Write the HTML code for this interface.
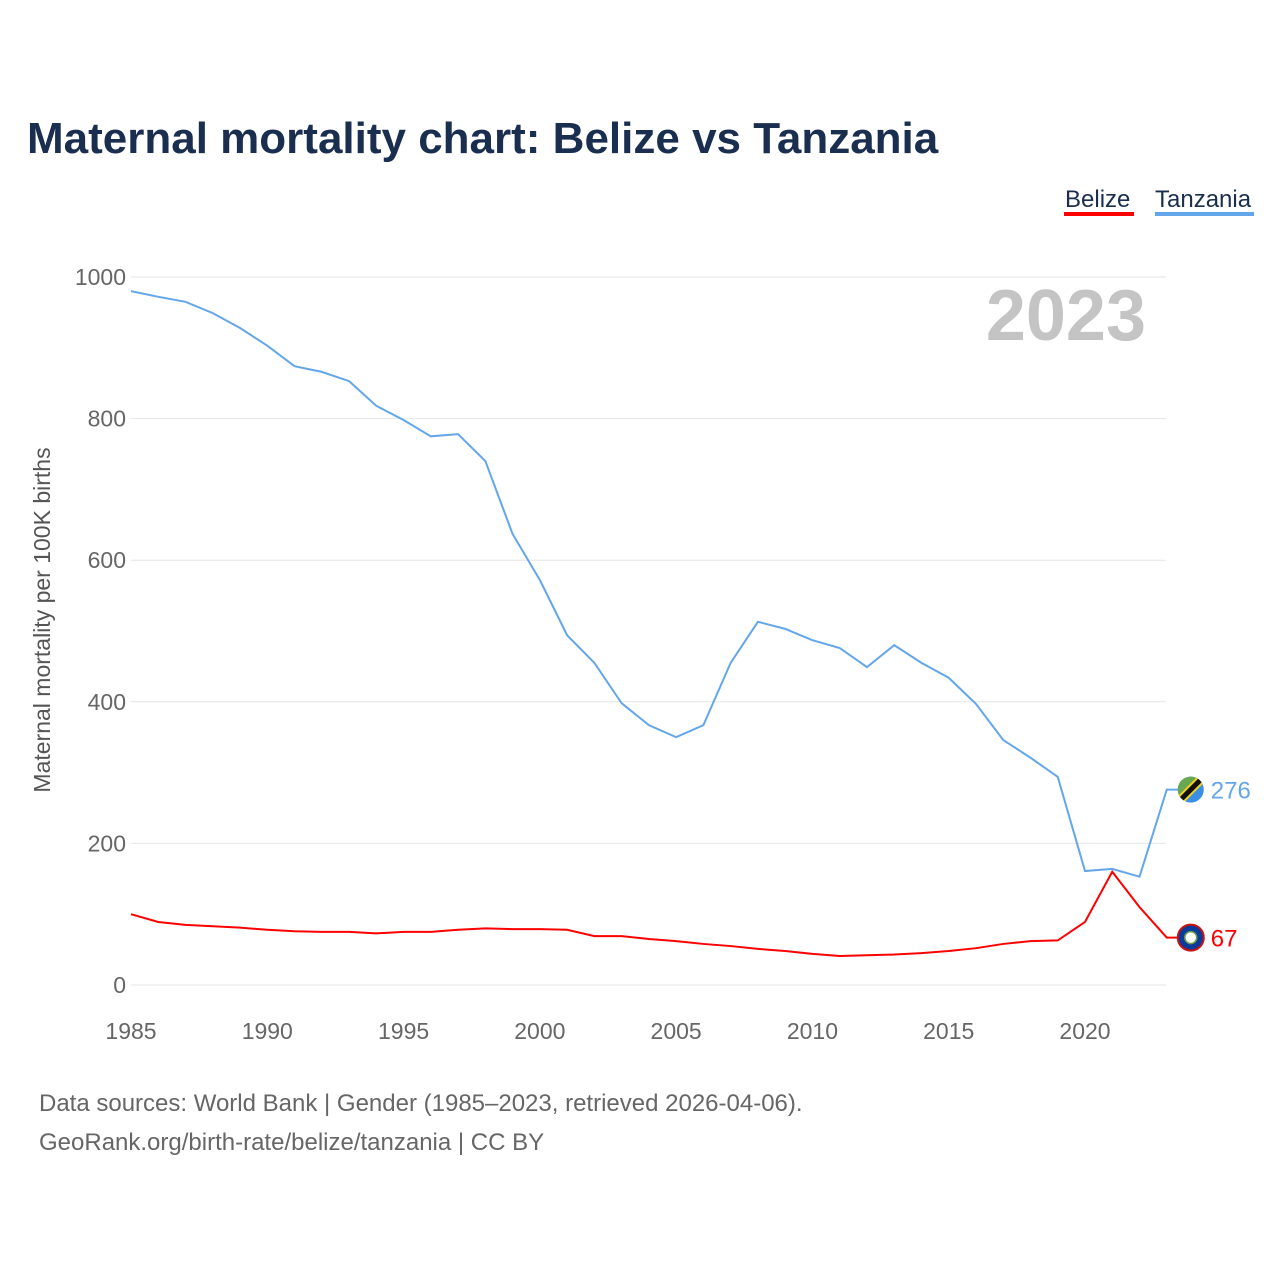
<!DOCTYPE html>
<html><head><meta charset="utf-8"><style>
body{margin:0;background:#fff;font-family:"Liberation Sans",sans-serif}
svg{display:block}
</style></head><body>
<svg id="chart" width="1280" height="1280" viewBox="0 0 1280 1280" xmlns="http://www.w3.org/2000/svg">
<text x="27" y="153" font-size="44" font-weight="bold" fill="#1a2e4f">Maternal mortality chart: Belize vs Tanzania</text>
<g>
<text x="1065" y="207" font-size="24" fill="#1a2e4f">Belize</text>
<rect x="1064" y="212" width="70" height="4" fill="#ff0000"/>
<text x="1155" y="207" font-size="24" fill="#1a2e4f">Tanzania</text>
<rect x="1155" y="212" width="99" height="4" fill="#63a6ea"/>
</g>
<text x="1146" y="340" font-size="72" font-weight="bold" fill="#c4c4c4" text-anchor="end">2023</text>
<defs><clipPath id="tzclip"><circle id="tzc" cx="0" cy="0" r="13"/></clipPath></defs>
<g id="grid"></g>
<g id="xaxis"></g>
<g id="series"></g>
<text transform="translate(50,620) rotate(-90)" font-size="23" fill="#555" text-anchor="middle">Maternal mortality per 100K births</text>
<text x="39" y="1111" font-size="24" fill="#666">Data sources: World Bank | Gender (1985–2023, retrieved 2026-04-06).</text>
<text x="39" y="1150" font-size="24" fill="#666">GeoRank.org/birth-rate/belize/tanzania | CC BY</text>
</svg>
<script>
const years=[];for(let y=1985;y<=2023;y++)years.push(y);
const tanzania=[980,972,965,949,928,903,874,866,853,818,798,775,778,740,637,572,494,455,398,367,350,367,455,513,503,487,476,449,480,455,434,397,346,321,294,161,164,153,276];
const belize=[100,89,85,83,81,78,76,75,75,73,75,75,78,80,79,79,78,69,69,65,62,58,55,51,48,44,41,42,43,45,48,52,58,62,63,89,160,110,67];
const yTicks=[0,200,400,600,800,1000];
const xTicks=[1985,1990,1995,2000,2005,2010,2015,2020];
const NS="http://www.w3.org/2000/svg";
const X=v=>131+(v-1985)*(954/35);
const Y=v=>985-v*0.708;
function mk(t,a,p){const e=document.createElementNS(NS,t);for(const k in a)e.setAttribute(k,a[k]);p.appendChild(e);return e;}
const grid=document.getElementById('grid');
yTicks.forEach(t=>{
 const l=mk('line',{x1:131,x2:1166,y1:Y(t),y2:Y(t),stroke:'#e6e6e6','stroke-width':1},grid);
 
 
 const tx=mk('text',{x:126,y:Y(t)+8,'font-size':23,fill:'#666','text-anchor':'end'},grid);
 
 
 tx.textContent=t;
});
const xa=document.getElementById('xaxis');
xTicks.forEach(t=>{
 const tx=mk('text',{x:X(t),y:1039,'font-size':23,fill:'#666','text-anchor':'middle'},xa);
 
 
 tx.textContent=t;
});
const s=document.getElementById('series');
function line(data,color,name){
 const pts=data.map((v,i)=>X(years[i])+','+Y(v));
 const last=data[data.length-1];
 pts.push((X(2023)+14)+','+Y(last));
 const p=mk('polyline',{points:pts.join(' '),fill:'none',stroke:color,'stroke-width':2},s);
 
 
 const cx=X(2023)+24, cy=Y(last);
 if(name==='tanzania'){
  const g=mk('g',{transform:`translate(${cx},${cy})`,'clip-path':'url(#tzclip)'},s);
  
  
  mk('rect',{x:-14,y:-14,width:28,height:28,fill:'#3a8ee6'},g);
  mk('path',{d:'M-14,14 L-14,-14 L14,-14 Z',fill:'#6aa84f'},g);
  mk('line',{x1:-14,y1:14,x2:14,y2:-14,stroke:'#f0d020','stroke-width':9},g);
  mk('line',{x1:-14,y1:14,x2:14,y2:-14,stroke:'#111','stroke-width':5},g);
 } else {
  const c=mk('circle',{cx:cx,cy:cy,r:13,fill:'#0a3a9a',stroke:'#cc1111','stroke-width':2},s);
  
  
  const w=mk('circle',{cx:cx,cy:cy,r:6,fill:'#fff',stroke:'#6a9a4a','stroke-width':1.5},s);
  
 }
 const t=mk('text',{x:X(2023)+44,y:Y(last)+9,'font-size':24,fill:color},s);
 
 
 t.textContent=last;
}
line(tanzania,'#63a6ea','tanzania');
line(belize,'#ff0000','belize');
</script>
</body></html>
